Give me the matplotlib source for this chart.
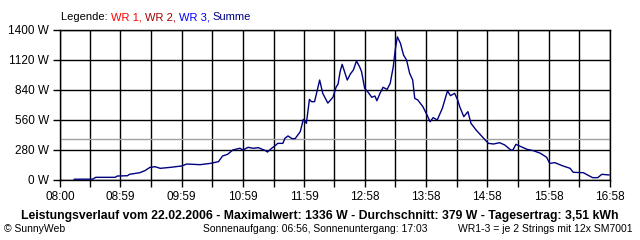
import matplotlib
matplotlib.use('Agg')
import matplotlib.pyplot as plt

plt.rcParams['font.family'] = ['Liberation Sans', 'DejaVu Sans']

# minutes after 08:00 and power in W (Summe)
minutes = [14, 32, 35, 54, 56, 66, 68, 78, 83, 88, 93, 98, 108, 119, 124, 137, 147, 155,
           159, 164, 169, 176, 179, 184, 189, 194, 201, 203, 207, 210, 213, 218, 220, 223,
           227, 230, 235, 238, 241, 244, 246, 249, 254, 257, 262, 267, 270, 272, 274, 276,
           281, 284, 287, 290, 293, 295, 298, 301, 305, 308, 310, 313, 316, 320, 323, 326,
           328, 330, 333, 336, 339, 342, 345, 347, 350, 355, 359, 362, 365, 369, 374, 379,
           382, 386, 389, 391, 395, 399, 402, 407, 413, 419, 424, 430, 435, 441, 443, 446,
           451, 457, 463, 470, 476, 479, 484, 492, 499, 502, 512, 516, 521, 526, 530, 537]
watts = [7, 8, 25, 25, 37, 40, 53, 68, 87, 118, 124, 109, 118, 131, 149, 143, 155, 171,
         224, 240, 280, 296, 280, 305, 296, 302, 274, 261, 296, 317, 342, 342, 389, 411,
         386, 386, 451, 566, 529, 753, 731, 731, 933, 809, 718, 772, 865, 896, 1011, 1080,
         933, 989, 1027, 1111, 1058, 1011, 856, 824, 772, 784, 740, 809, 865, 846, 902, 1058,
         1220, 1336, 1276, 1167, 1120, 996, 933, 762, 747, 684, 607, 544, 582, 560, 669, 831,
         787, 809, 747, 684, 591, 638, 529, 467, 404, 342, 336, 348, 327, 280, 280, 333,
         311, 286, 274, 249, 212, 155, 162, 131, 109, 72, 68, 47, 22, 22, 53, 47]

average = 379
tick_pos = [0, 59, 119, 179, 239, 298, 358, 418, 478, 538]
tick_labels = ['08:00', '08:59', '09:59', '10:59', '11:59', '12:58', '13:58', '14:58', '15:58', '16:58']
y_ticks = [0, 280, 560, 840, 1120, 1400]

fig = plt.figure(figsize=(6.4, 2.4), dpi=100)
ax = fig.add_axes([60/640, 1 - 180/240, 550/640, 150/240])

ax.axhline(average, color='#a0a0a0', lw=1, zorder=2)
ax.plot(minutes, watts, color='#000080', lw=1, zorder=3)

minor_pos = [(a + b) / 2 for a, b in zip(tick_pos[:-1], tick_pos[1:])]
ax.set_xticks(tick_pos)
ax.set_xticklabels(tick_labels)
ax.set_xticks(minor_pos, minor=True)
ax.set_yticks(y_ticks)
ax.set_yticklabels([f'{v} W' for v in y_ticks])
ax.set_xlim(0, 538)
ax.set_ylim(0, 1400)
ax.grid(True, which='both', color='black', lw=1, zorder=1)
ax.tick_params(which='both', direction='out', length=5, width=1, color='black',
               labelsize=8.5, pad=3)
for s in ax.spines.values():
    s.set_linewidth(1)

# legend line above the plot
parts = [('Legende: ', 'black'), ('WR 1, ', '#ff0000'), ('WR 2, ', '#a00000'),
         ('WR 3, ', '#0000ff'), ('Summe', '#000080')]
x = 61 / 640
r = fig.canvas.get_renderer()
for txt, col in parts:
    t = fig.text(x, 1 - 17/240, txt, fontsize=8, va='center', ha='left', color=col)
    bb = t.get_window_extent(renderer=r)
    x += bb.width / 640

fig.text(320/640, 1 - 216/240,
         'Leistungsverlauf vom 22.02.2006 - Maximalwert: 1336 W - Durchschnitt: 379 W - Tagesertrag: 3,51 kWh',
         fontsize=8.8, fontweight='bold', ha='center', va='center')
fig.text(4/640, 1 - 229/240, '© SunnyWeb', fontsize=7.5, ha='left', va='center')
fig.text(203/640, 1 - 229/240, 'Sonnenaufgang: 06:56, Sonnenuntergang: 17:03', fontsize=7.5,
         ha='left', va='center')
fig.text(633/640, 1 - 229/240, 'WR1-3 = je 2 Strings mit 12x SM7001', fontsize=7.5,
         ha='right', va='center')

fig.savefig('out.png', dpi=100, facecolor='white')
